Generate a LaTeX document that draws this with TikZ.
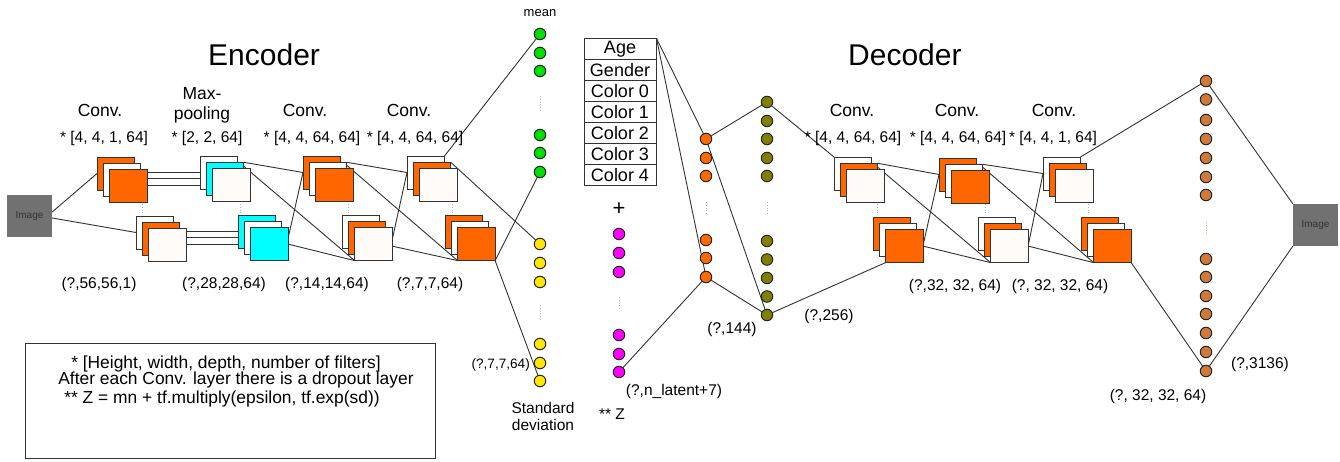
\documentclass[tikz,border=0pt]{standalone}
\usepackage{fontspec}
\setmainfont{Liberation Sans}
\usetikzlibrary{calc}
\pgfdeclarelayer{bg}
\pgfsetlayers{bg,main}
\definecolor{sqorange}{HTML}{FF6600}
\definecolor{sqcyan}{HTML}{00FFFF}
\definecolor{offwhite}{HTML}{FFFBF8}
\definecolor{lncol}{HTML}{333333}
\definecolor{imggray}{HTML}{717171}
\definecolor{ngreen}{HTML}{00E000}
\definecolor{nyellow}{HTML}{FFE800}
\definecolor{nmag}{HTML}{FF00FF}
\definecolor{norange}{HTML}{FF6A00}
\definecolor{nolive}{HTML}{7F7F00}
\definecolor{nbrown}{HTML}{D07A3A}
\newcommand{\mkstack}[6]{%
 \node[sq,fill=#4,anchor=north west] (#1a) at (#2,#3) {};
 \node[sq,fill=#5,anchor=north west,xshift=6.3pt,yshift=-6.3pt] (#1b) at (#2,#3) {};
 \node[sq,fill=#6,anchor=north west,xshift=12.6pt,yshift=-12.6pt] (#1c) at (#2,#3) {};
}
\begin{document}
\begin{tikzpicture}[x=1pt,y=-1pt,
 sq/.style={draw=lncol,line width=0.9pt,minimum width=37.5pt,minimum height=33pt,inner sep=0pt,outer sep=0pt},
 neu/.style={circle,draw=black!85,line width=1pt,minimum size=11.5pt,inner sep=0pt,outer sep=0pt},
 conn/.style={draw=lncol,line width=0.9pt},
 lbl/.style={font=\fontsize{15.5}{17}\selectfont,inner sep=0pt,anchor=base},
 ttl/.style={font=\fontsize{17.5}{19}\selectfont,inner sep=0pt,anchor=base},
 leg/.style={font=\fontsize{17.4}{19}\selectfont,inner sep=0pt,anchor=base},
 dotsv/.style={draw=black!30,line width=0.8pt,dotted},
 imgbox/.style={fill=imggray,minimum width=45pt,minimum height=42pt,inner sep=0pt,font=\fontsize{10}{11}\selectfont,text=black!80},
 cell/.style={draw=lncol,line width=1pt,minimum width=72pt,minimum height=20.86pt,inner sep=0pt,font=\fontsize{18}{20}\selectfont}
]
\useasboundingbox (0,0) rectangle (1340,462);

% titles
\node[anchor=base west,inner sep=0pt,font=\fontsize{30}{33}\selectfont] (enc) at (208,66) {Encoder};
\node[anchor=base west,inner sep=0pt,font=\fontsize{30}{33}\selectfont] (dec) at (848,66) {Decoder};

% image boxes
\node[imgbox] (imgL) at (29.5,216) {Image};
\node[imgbox] (imgR) at (1315.5,225) {Image};

% encoder stacks
\mkstack{E1t}{97}{157}{sqorange}{white}{sqorange}
\mkstack{E1b}{136}{216}{white}{sqorange}{offwhite}
\mkstack{E2t}{200}{156}{white}{sqcyan}{offwhite}
\mkstack{E2b}{238}{215}{sqcyan}{white}{sqcyan}
\mkstack{E3t}{303}{156}{sqorange}{white}{sqorange}
\mkstack{E3b}{342}{215}{white}{sqorange}{offwhite}
\mkstack{E4t}{407}{156}{white}{sqorange}{offwhite}
\mkstack{E4b}{445}{215}{sqorange}{white}{sqorange}

% decoder stacks
\mkstack{D1t}{834}{157}{white}{sqorange}{offwhite}
\mkstack{D1b}{873}{217}{sqorange}{white}{sqorange}
\mkstack{D2t}{939}{158}{sqorange}{white}{sqorange}
\mkstack{D2b}{978}{217}{white}{sqorange}{offwhite}
\mkstack{D3t}{1043}{157}{white}{sqorange}{offwhite}
\mkstack{D3b}{1081}{217}{sqorange}{white}{sqorange}

% stack ellipsis marks
\foreach \xx in {142,240,348,452,877,985,1088}
  \draw[dotsv] (\xx,204) -- (\xx,214);

% encoder labels
\node[ttl] at (100,117) {Conv.};
\node[ttl] at (202,100) {Max-};
\node[ttl] at (202,120) {pooling};
\node[ttl] at (305,117) {Conv.};
\node[ttl] at (409,117) {Conv.};
\node[lbl] at (104,143) {* [4, 4, 1, 64]};
\node[lbl] at (207,143) {* [2, 2, 64]};
\node[lbl] at (312,143) {* [4, 4, 64, 64]};
\node[lbl] at (415,143) {* [4, 4, 64, 64]};
\node[lbl] at (99,288) {(?,56,56,1)};
\node[lbl] at (224,288) {(?,28,28,64)};
\node[lbl] at (327,288) {(?,14,14,64)};
\node[lbl] at (430,288) {(?,7,7,64)};

% decoder labels
\node[ttl] at (852,117) {Conv.};
\node[ttl] at (957,117) {Conv.};
\node[ttl] at (1054,117) {Conv.};
\node[lbl] at (853,143) {* [4, 4, 64, 64]};
\node[lbl] at (958,143) {* [4, 4, 64, 64]};
\node[lbl] at (1053,143) {* [4, 4, 1, 64]};
\node[lbl] at (955,290) {(?,32, 32, 64)};
\node[lbl] at (1060,290) {(?, 32, 32, 64)};
\node[lbl] at (732,333) {(?,144)};
\node[lbl] at (829,320) {(?,256)};
\node[lbl] at (674,395) {(?,n\_latent+7)};
\node[lbl] at (612,419) {** Z};
\node[lbl] at (1260,368) {(?,3136)};
\node[lbl] at (1158,400) {(?, 32, 32, 64)};

% latent labels
\node[inner sep=0pt,anchor=base,font=\fontsize{13}{14}\selectfont] at (540,17) {mean};
\node[lbl] at (543,413) {Standard};
\node[lbl] at (543,430) {deviation};
\node[inner sep=0pt,anchor=base east,font=\fontsize{13.6}{15}\selectfont] at (530,368) {(?,7,7,64)};
\node[inner sep=0pt,font=\fontsize{22}{24}\selectfont] (plus) at (619,209) {+};

% neurons
\foreach \i/\yy in {1/34,2/53,3/71,4/135,5/153,6/172}
  \node[neu,fill=ngreen] (g\i) at (540,\yy) {};
\foreach \i/\yy in {1/244,2/263,3/282,4/344,5/363,6/381}
  \node[neu,fill=nyellow] (y\i) at (540,\yy) {};
\foreach \i/\yy in {1/234,2/253,3/272,4/335,5/354,6/372}
  \node[neu,fill=nmag] (m\i) at (619,\yy) {};
\foreach \i/\yy in {1/139,2/158,3/176,4/240,5/258,6/277}
  \node[neu,fill=norange] (o\i) at (706,\yy) {};
\foreach \i/\yy in {1/102,2/121,3/139,4/158,5/176,6/241,7/259.5,8/278,9/296.5,10/315}
  \node[neu,fill=nolive] (v\i) at (767,\yy) {};
\foreach \i/\yy in {1/81,2/99.5,3/120,4/139,5/158,6/177,7/195,8/259,9/277,10/296,11/314,12/333,13/352,14/371}
  \node[neu,fill=nbrown] (r\i) at (1206,\yy) {};
\draw[dotsv] (540,96) -- (540,112);
\draw[dotsv] (540,305) -- (540,321);
\draw[dotsv] (619,297) -- (619,311);
\draw[dotsv] (706,202) -- (706,216);
\draw[dotsv] (767,202) -- (767,216);
\draw[dotsv,draw=nbrown!60] (1206,222) -- (1206,235);

% attribute table
\foreach \i/\t in {1/Age,2/Gender,3/Color 0,4/Color 1,5/Color 2,6/Color 3,7/Color 4}
  \node[cell] (t\i) at (620,{49.43+20.86*(\i-1)}) {\t};

% legend
\node[draw=lncol,line width=1.1pt,minimum width=410pt,minimum height=115pt,anchor=north west,inner sep=0pt] (legbox) at (25,343) {};
\node[leg] at (226,368) {* [Height, width, depth, number of filters]};
\node[leg] at (236,384) {After each Conv. layer there is a dropout layer};
\node[leg] at (222,403) {** Z = mn + tf.multiply(epsilon, tf.exp(sd))};

% connectors (behind the shapes)
\begin{pgfonlayer}{bg}
\fill[white] (0,0) rectangle (1340,462);
\draw[conn] ([yshift=4pt]imgL.east) -- (E1ta.west);
\draw[conn] ([yshift=-2pt]imgL.east) -- (E1ba.west);
\foreach \s in {a,b,c}{
  \draw[conn] (E2t\s.west -| E1tc.east) -- (E2t\s.west);
  \draw[conn] (E2b\s.west -| E1bc.east) -- (E2b\s.west);
}
\draw[conn] (E2tb.north east) -- (E3ta.west);
\draw[conn] ([yshift=-4pt]E2tb.north east) -- (E3bc.south west);
\draw[conn] ([yshift=6pt]E2bc.east) -- (E3ta.west);
\draw[conn] (E2bc.east) -- (E3bc.south west);
\draw[conn] (E3tb.north east) -- (E4ta.west);
\draw[conn] ([yshift=-3pt]E3tb.north east) -- (E4bc.south west);
\draw[conn] ([yshift=4pt]E3bc.east) -- (E4ta.west);
\draw[conn] ([yshift=-2pt]E3bc.east) -- (E4bc.south west);
\draw[conn] (E4ta.north east) -- (g1);
\draw[conn] (E4tb.north east) -- (y1);
\draw[conn] (E4bc.south east) -- (g6);
\draw[conn] (E4bc.south east) -- (y6);

\draw[conn] (t1.north east) -- (o1);
\draw[conn] (t1.north east) -- (o6);
\draw[conn] (o1) -- (v1);
\draw[conn] (o1) -- (v10);
\draw[conn] (o6) -- (v10);
\draw[conn] (m6) -- (o6);
\draw[conn] (v1) -- (D1ta.north west);
\draw[conn] (v10) -- (D1bc.south west);
\draw[conn] (D1tb.north east) -- (D2ta.west);
\draw[conn] ([yshift=-4pt]D1tb.north east) -- (D2bc.south west);
\draw[conn] ([yshift=1pt]D1bc.east) -- (D2ta.west);
\draw[conn] (D1bc.east) -- (D2bc.south west);
\draw[conn] (D2tb.north east) -- (D3ta.west);
\draw[conn] ([yshift=-3pt]D2tb.north east) -- (D3bc.south west);
\draw[conn] (D2bc.east) -- (D3ta.west);
\draw[conn] (D2bc.east) -- (D3bc.south west);
\draw[conn] (D3ta.north east) -- (r1);
\draw[conn] (D3bc.south east) -- (r14);
\draw[conn] (r1) -- (imgR.north west);
\draw[conn] (r14) -- (imgR.south west);
\end{pgfonlayer}
\end{tikzpicture}
\end{document}
